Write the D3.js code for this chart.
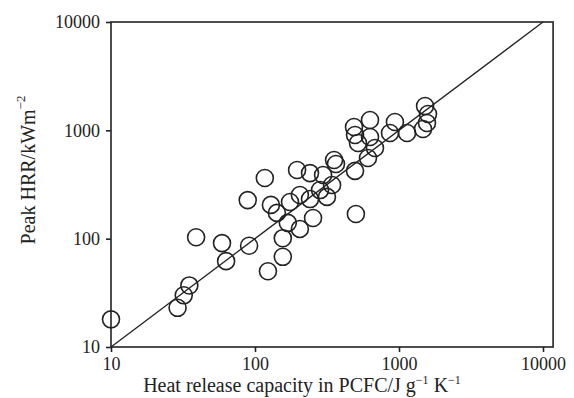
<!DOCTYPE html>
<html><head><meta charset="utf-8">
<script src="https://cdn.jsdelivr.net/npm/d3@7"></script>
<style>body{margin:0;background:#fff}svg{display:block}text{font-family:"Liberation Serif","Times New Roman",serif;fill:#222}</style>
</head><body><svg id="c" width="574" height="398"></svg>
<script>
const capacity = [10,29,32,35,39,59,63,89,91,117,123,129,142,156,156,169,175,196,205,205,241,241,253,283,297,316,343,354,365,495,502,487,495,519,629,629,681,609,866,937,1137,1517,1590,1564,1468];
const peakHRR  = [18,23,30,37,103,91,62,227,86,363,50,205,173,101,68,140,218,430,253,123,403,232,155,281,387,243,313,532,489,422,169,1074,906,764,1245,867,687,555,944,1193,944,1679,1416,1169,1028];
const tickValues = [10,100,1000,10000];
const fitLine = [[10,10],[10000,10000]];

const svg = d3.select("#c");
const x = d3.scaleLog().domain([10,10000]).range([111,543]);
const y = d3.scaleLog().domain([10,10000]).range([347,22]);
const xMax = 11750;

svg.append("path").datum(fitLine)
  .attr("d", d3.line().x(d=>x(d[0])).y(d=>y(d[1])))
  .attr("stroke","#222").attr("stroke-width",1.3).attr("fill","none");

svg.append("g").selectAll("circle").data(capacity.map((c,i)=>[c,peakHRR[i]]))
  .join("circle").attr("cx",d=>x(d[0])).attr("cy",d=>y(d[1])).attr("r",8.5)
  .attr("fill","none").attr("stroke","#222").attr("stroke-width",1.6);

svg.append("rect").attr("x",x(10)).attr("y",y(10000))
  .attr("width",x(xMax)-x(10)).attr("height",y(10)-y(10000))
  .attr("fill","none").attr("stroke","#222").attr("stroke-width",1.6);

const fmt = d3.format("d");
const gx = svg.append("g").attr("transform",`translate(0,${y(10)})`)
  .call(d3.axisBottom(x).tickValues(tickValues).tickFormat(fmt).tickSize(5).tickPadding(5));
const gy = svg.append("g").attr("transform",`translate(${x(10)},0)`)
  .call(d3.axisLeft(y).tickValues(tickValues).tickFormat(fmt).tickSize(5).tickPadding(6));
[gx,gy].forEach(g=>{
  g.select(".domain").remove();
  g.selectAll("line").attr("stroke","#222").attr("stroke-width",1.6);
  g.selectAll("text").attr("font-family","Liberation Serif").attr("font-size",18).attr("fill","#222");
});

const xt = svg.append("text").attr("x",302).attr("y",392).attr("text-anchor","middle").attr("font-size",20);
xt.append("tspan").text("Heat release capacity in PCFC/J g");
xt.append("tspan").attr("dy",-8).attr("font-size",12).text("−1");
xt.append("tspan").attr("dy",8).text(" K");
xt.append("tspan").attr("dy",-8).attr("font-size",12).text("−1");

const yt = svg.append("text").attr("transform","translate(35,170) rotate(-90)").attr("text-anchor","middle").attr("font-size",20);
yt.append("tspan").text("Peak HRR/kWm");
yt.append("tspan").attr("dy",-10).attr("font-size",13).text("−2");
</script></body></html>
